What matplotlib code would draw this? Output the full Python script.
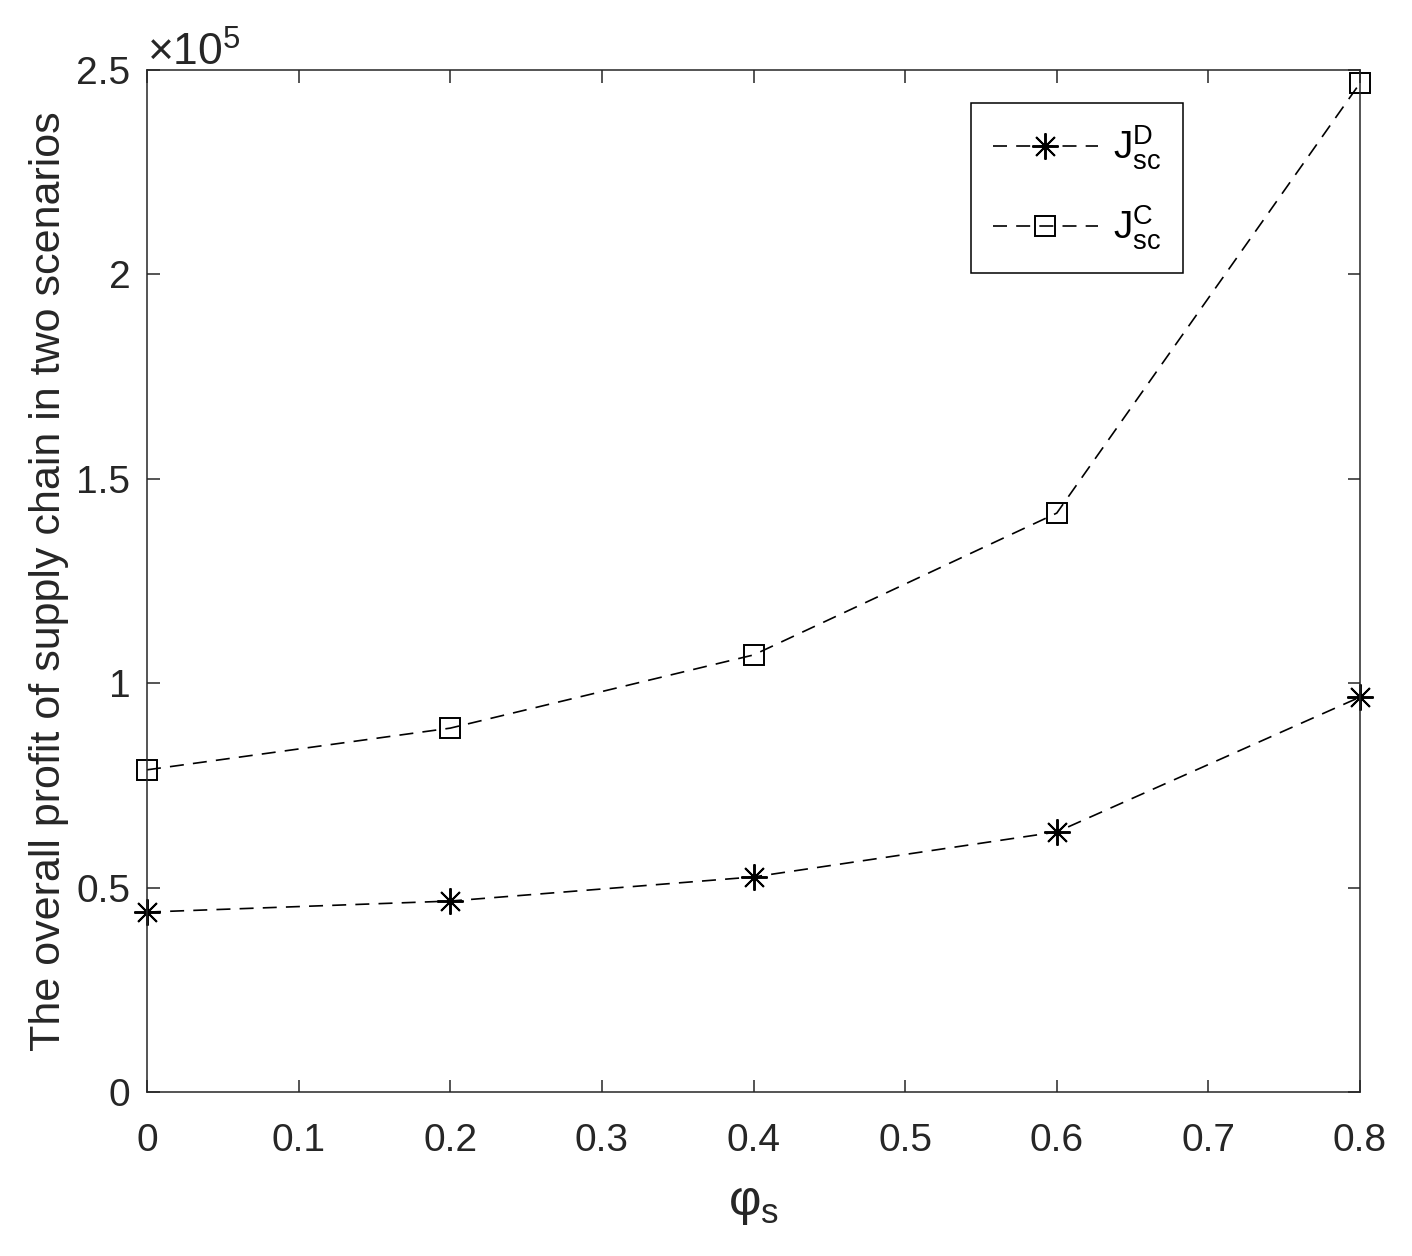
import matplotlib.pyplot as plt
import matplotlib.ticker as mt

phi = [0, 0.2, 0.4, 0.6, 0.8]                          # phi_s
J_D = [0.440e5, 0.467e5, 0.526e5, 0.636e5, 0.966e5]    # decentralised
J_C = [0.788e5, 0.890e5, 1.069e5, 1.416e5, 2.468e5]    # centralised

plt.rcParams['font.family'] = ['Liberation Sans', 'DejaVu Sans']
plt.rcParams['mathtext.fontset'] = 'custom'
plt.rcParams['mathtext.rm'] = 'Liberation Sans'
plt.rcParams['mathtext.it'] = 'Liberation Sans'
plt.rcParams['mathtext.sf'] = 'Liberation Sans'


class Fmt(mt.ScalarFormatter):          # matlab style: 0, 0.5, 1 ... x10^5
    def _set_format(self):
        self.format = '%g'


fig = plt.figure(figsize=(14.12, 12.56), dpi=100)
ax = fig.add_axes([0.1041, 0.1306, 0.8591, 0.8137])

ls = (0, (8.4, 5.5))
ax.plot(phi, J_D, color='k', lw=1.2, ls=ls, marker=(8, 2, 0), ms=19,
        mew=1.4, clip_on=False, label=r'$\mathregular{J^D_{sc}}$')
ax.plot(phi, J_C, color='k', lw=1.2, ls=ls, marker='s', ms=14, mew=1.4,
        mfc='none', clip_on=False, label=r'$\mathregular{J^C_{sc}}$')

ax.set_xlim(0, 0.8)
ax.set_ylim(0, 2.5e5)
ax.set_xticks([0, 0.1, 0.2, 0.3, 0.4, 0.5, 0.6, 0.7, 0.8])
ax.set_xticklabels(['0', '0.1', '0.2', '0.3', '0.4', '0.5', '0.6', '0.7', '0.8'])
ax.set_yticks([0, 0.5e5, 1e5, 1.5e5, 2e5, 2.5e5])
fmt = Fmt(useMathText=True)
fmt.set_powerlimits((0, 0))
ax.yaxis.set_major_formatter(fmt)
ax.yaxis.get_offset_text().set_fontsize(32)

for s in ax.spines.values():
    s.set_linewidth(1.1)
    s.set_color('#262626')
ax.tick_params(direction='in', length=9, width=1.1, colors='#262626',
               labelsize=28, top=True, right=True, pad=12)
ax.tick_params(axis='x', pad=22)
ax.set_xlabel(r'$\mathregular{φ_s}$', fontsize=36, color='#262626', labelpad=16)
ax.set_ylabel('The overall profit of supply chain in two scenarios',
              fontsize=31, color='#262626', labelpad=5)

leg = ax.legend(loc='upper right', fontsize=28, handlelength=2.7,
                handletextpad=0.4, fancybox=False, framealpha=1, edgecolor='k',
                bbox_to_anchor=(0.854, 0.968), borderaxespad=0,
                borderpad=0.55, labelspacing=0.8)
leg.get_frame().set_linewidth(1.1)

fig.savefig('out.png', dpi=100)
